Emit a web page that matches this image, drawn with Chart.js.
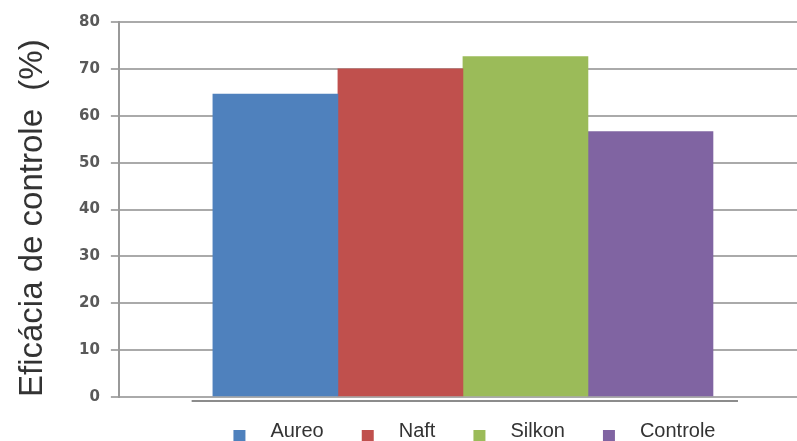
<!DOCTYPE html>
<html>
<head>
<meta charset="utf-8">
<script src="https://cdn.jsdelivr.net/npm/chart.js@4/dist/chart.umd.min.js"></script>
<style>
  html, body { margin: 0; padding: 0; background: #fff; }
  #wrap { width: 797px; height: 441px; }
</style>
</head>
<body>
<div id="wrap"><canvas id="chart"></canvas></div>
<script>
// values
const categories = ['Aureo', 'Naft', 'Silkon', 'Controle'];
const efficacy = [64.6, 70.0, 72.6, 56.6];
const yTicks = [0, 10, 20, 30, 40, 50, 60, 70, 80];

const barColors = ['#4F81BD', '#C0504D', '#9BBB59', '#8064A2'];

// legend marker: small square sitting a bit low and to the right
function makeMarker(color) {
    const c = document.createElement('canvas');
    c.width = 60;
    c.height = 30;
    const g = c.getContext('2d');
    g.fillStyle = color;
    g.fillRect(33, 14, 12, 11);
    return c;
}
const markers = barColors.map(makeMarker);

// the flat "floor" line under the bars
const floorLine = {
    id: 'floorLine',
    afterDatasetsDraw(chart, args, opts) {
        const { ctx, scales: { x, y } } = chart;
        const yPos = y.getPixelForValue(0) + 4;
        ctx.save();
        ctx.strokeStyle = opts.color;
        ctx.lineWidth = 2;
        ctx.beginPath();
        ctx.moveTo(x.getPixelForValue(opts.from), yPos);
        ctx.lineTo(x.getPixelForValue(opts.to), yPos);
        ctx.stroke();
        ctx.restore();
    }
};

const datasets = categories.map((name, i) => ({
    label: name,
    data: [{ x: i + 1, y: efficacy[i] }],
    backgroundColor: barColors[i],
    borderWidth: 0,
    grouped: false,
    barPercentage: 1,
    categoryPercentage: 1
}));

new Chart(document.getElementById('chart'), {
    type: 'bar',
    data: { datasets: datasets },
    plugins: [floorLine],
    options: {
        responsive: true,
        maintainAspectRatio: false,
        animation: false,
        layout: { padding: { left: 4, top: 22, right: 0, bottom: -10 } },
        scales: {
            x: {
                type: 'linear',
                display: false,
                offset: false,
                min: -0.252,
                max: 5.172,
                ticks: { stepSize: 1, includeBounds: false }
            },
            y: {
                min: yTicks[0],
                max: yTicks[yTicks.length - 1],
                afterBuildTicks: axis => { axis.ticks = yTicks.map(v => ({ value: v })); },
                ticks: {
                    padding: 11,
                    color: '#595959',
                    font: { family: 'DejaVu Sans', size: 15, weight: 'bold' }
                },
                grid: { color: '#aaaaaa', lineWidth: 2, tickLength: 8 },
                border: { color: '#999999', width: 2 },
                title: {
                    display: true,
                    text: 'Eficácia de controle  (%)',
                    align: 'start',
                    color: '#333333',
                    font: { family: 'Liberation Sans', size: 33, lineHeight: 1 },
                    padding: { top: 12.5, bottom: 18.5 }
                }
            }
        },
        plugins: {
            tooltip: { enabled: false },
            floorLine: { color: '#8c8c8c', from: 0.33, to: 4.7 },
            legend: {
                position: 'bottom',
                fullSize: false,
                title: { display: true, text: ' ', font: { size: 10, lineHeight: 1.2 }, padding: { top: 5, bottom: 2 } },
                labels: {
                    usePointStyle: true,
                    pointStyleWidth: 60,
                    boxHeight: 20,
                    padding: 5,
                    color: '#333333',
                    font: { family: 'Liberation Sans', size: 20 },
                    generateLabels: chart =>
                        Chart.defaults.plugins.legend.labels.generateLabels(chart)
                            .map((item, i) => ({ ...item, pointStyle: markers[i] }))
                }
            }
        }
    }
});
</script>
</body>
</html>
